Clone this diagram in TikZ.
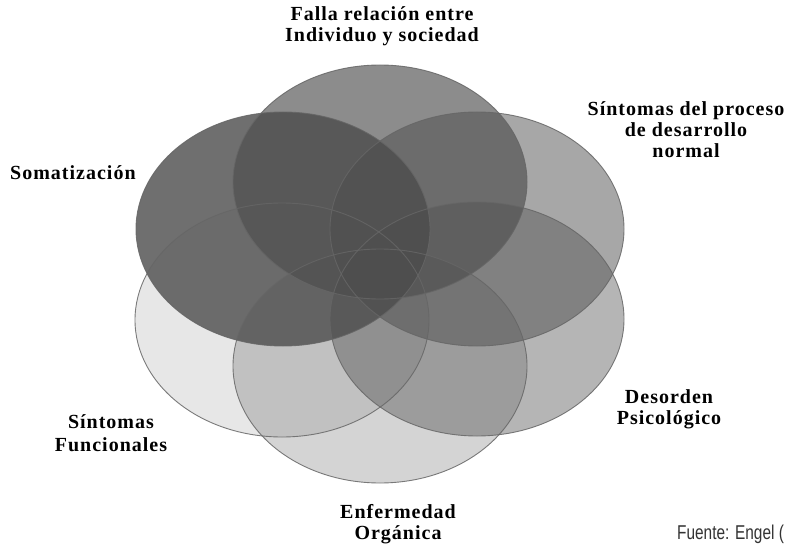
\documentclass[tikz,border=0pt]{standalone}
\usepackage{fontspec}
\newfontfamily\labfont{Liberation Serif}[LetterSpace=5]
\newfontfamily\srcfont{Liberation Sans}[FakeStretch=0.77]
\begin{document}
\begin{tikzpicture}[x=1pt,y=-1pt,
  petal/.style={fill=black!70},
  rim/.style={draw=black!60, line width=0.9pt, draw opacity=0.85},
  lab/.style={inner sep=0pt, anchor=base, font=\labfont\bfseries\fontsize{20}{21}\selectfont},
  src/.style={inner sep=0pt, anchor=base west, text=black!80, font=\srcfont\fontsize{20}{21}\selectfont}]
\useasboundingbox (0,0) rectangle (791,548);
\fill[white] (0,0) rectangle (791,548);
% petals
\fill[petal, fill opacity=0.13] (282,320) ellipse [x radius=147pt, y radius=117pt];
\fill[petal, fill opacity=0.24] (380,366) ellipse [x radius=147pt, y radius=117pt];
\fill[petal, fill opacity=0.41] (477,319) ellipse [x radius=147pt, y radius=117pt];
\fill[petal, fill opacity=0.49] (477,229) ellipse [x radius=147pt, y radius=117pt];
\fill[petal, fill opacity=0.64] (380,182) ellipse [x radius=147pt, y radius=117pt];
\fill[petal, fill opacity=0.80] (283,229) ellipse [x radius=147pt, y radius=117pt];
\foreach \c in {(282,320),(380,366),(477,319),(477,229),(380,182),(283,229)}
  \draw[rim] \c ellipse [x radius=147pt, y radius=117pt];
% labels
\node[lab] (falla) at (382,20.7) {\begin{tabular}[t]{@{}c@{}}Falla relación entre\\Individuo y sociedad\end{tabular}};
\node[lab] (desarrollo) at (686,116) {\begin{tabular}[t]{@{}c@{}}Síntomas del proceso\\de desarrollo\\normal\end{tabular}};
\node[lab, anchor=base west] (somat) at (10,179) {Somatización};
\node[lab] (funcion) at (111,428) {\begin{tabular}[t]{@{}c@{}}Síntomas\\[2pt]Funcionales\end{tabular}};
\node[lab] (desorden) at (669,403) {\begin{tabular}[t]{@{}c@{}}Desorden\\Psicológico\end{tabular}};
\node[lab] (organica) at (398,518) {\begin{tabular}[t]{@{}c@{}}Enfermedad\\Orgánica\end{tabular}};
\node[src] (fuente) at (677,539) {Fuente: Engel (};
\end{tikzpicture}
\end{document}
